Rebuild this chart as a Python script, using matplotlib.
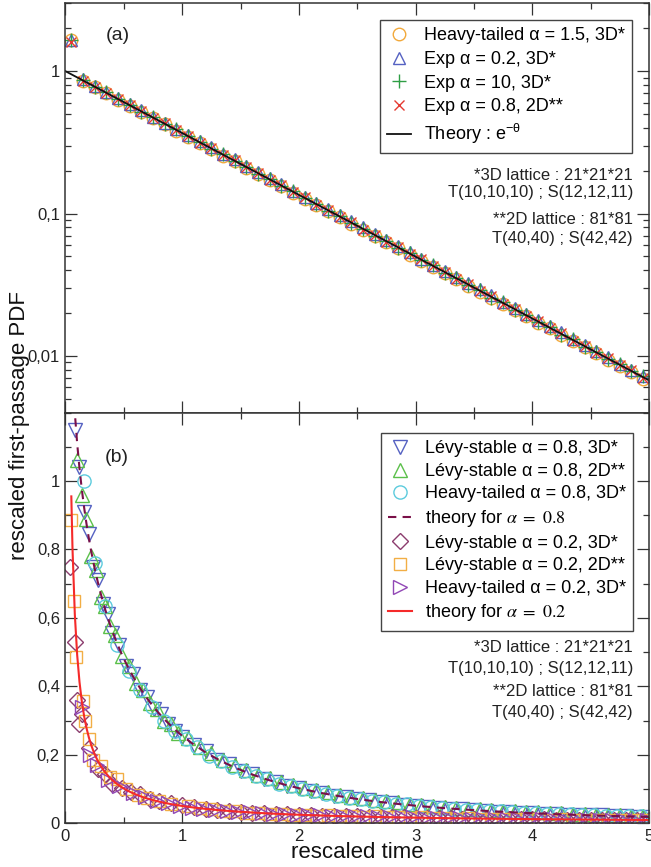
import numpy as np
import matplotlib
matplotlib.use('Agg')
import matplotlib.pyplot as plt
from matplotlib.ticker import FixedLocator, FixedFormatter, MultipleLocator, LogLocator, NullFormatter

plt.rcParams['font.family'] = ['Liberation Sans', 'DejaVu Sans']
plt.rcParams['mathtext.fontset'] = 'custom'
plt.rcParams['mathtext.rm'] = 'Liberation Sans'
plt.rcParams['mathtext.it'] = 'Liberation Sans:italic'

# ---------- panel (a) data ----------
theta_a = [0.05, 0.15, 0.25, 0.35, 0.45, 0.55, 0.65, 0.75, 0.85, 0.95, 1.05, 1.15, 1.25, 1.35, 1.45,
           1.55, 1.65, 1.75, 1.85, 1.95, 2.05, 2.15, 2.25, 2.35, 2.45, 2.55, 2.65, 2.75, 2.85, 2.95,
           3.05, 3.15, 3.25, 3.35, 3.45, 3.55, 3.65, 3.75, 3.85, 3.95, 4.05, 4.15, 4.25, 4.35, 4.45,
           4.55, 4.65, 4.75, 4.85, 4.95]
circ_a = [1.65, 0.85, 0.77, 0.70, 0.63, 0.57, 0.515, 0.47, 0.425, 0.383, 0.345, 0.313, 0.284, 0.255, 0.233,
          0.209, 0.190, 0.171, 0.156, 0.140, 0.127, 0.115, 0.104, 0.094, 0.085, 0.077, 0.0695, 0.063, 0.057, 0.0515,
          0.0465, 0.0423, 0.0382, 0.0345, 0.0312, 0.0283, 0.0256, 0.0232, 0.0209, 0.0190, 0.0171, 0.0156, 0.0141,
          0.0127, 0.0115, 0.0104, 0.0094, 0.0085, 0.0077, 0.0069]
tri_a = [1.65, 0.875, 0.79, 0.72, 0.65, 0.59, 0.53, 0.48, 0.435, 0.395, 0.356, 0.323, 0.292, 0.264, 0.240,
         0.216, 0.196, 0.178, 0.160, 0.145, 0.131, 0.119, 0.107, 0.0975, 0.088, 0.080, 0.072, 0.065, 0.059, 0.0535,
         0.048, 0.0437, 0.0396, 0.0358, 0.0325, 0.0293, 0.0266, 0.024, 0.0218, 0.0197, 0.0178, 0.0161, 0.0146,
         0.0132, 0.0120, 0.0108, 0.0098, 0.0088, 0.0080, 0.0072]
plus_a = [1.65, 0.865, 0.775, 0.71, 0.635, 0.58, 0.52, 0.475, 0.425, 0.39, 0.348, 0.318, 0.285, 0.261, 0.233,
          0.213, 0.191, 0.175, 0.156, 0.143, 0.128, 0.117, 0.104, 0.096, 0.0855, 0.0785, 0.070, 0.0645, 0.0572, 0.0528,
          0.047, 0.0433, 0.0384, 0.0354, 0.0314, 0.029, 0.0257, 0.0238, 0.0211, 0.0195, 0.0172, 0.016, 0.0141,
          0.0131, 0.0116, 0.0107, 0.0095, 0.0088, 0.0078, 0.0072]
cross_a = [1.6, 0.855, 0.775, 0.70, 0.635, 0.58, 0.525, 0.47, 0.43, 0.385, 0.352, 0.315, 0.288, 0.258, 0.236,
           0.211, 0.193, 0.173, 0.158, 0.141, 0.130, 0.115, 0.106, 0.094, 0.087, 0.077, 0.071, 0.063, 0.058, 0.052,
           0.0478, 0.0425, 0.039, 0.0348, 0.0319, 0.0284, 0.0262, 0.0232, 0.0215, 0.019, 0.0176, 0.0156, 0.0144,
           0.0127, 0.0118, 0.0105, 0.0097, 0.0086, 0.0079, 0.007]
theory_a_x = [0.0, 5.0]
theory_a_y = [1.0, 0.006738]

# ---------- panel (b) theory curves ----------
theta08_th = [0.04, 0.06, 0.08, 0.10, 0.12, 0.14, 0.16, 0.18, 0.20, 0.22, 0.24, 0.26, 0.28, 0.30, 0.32, 0.34,
              0.36, 0.38, 0.40, 0.42, 0.44, 0.46, 0.48, 0.50, 0.52, 0.54, 0.56, 0.58, 0.60, 0.62, 0.64, 0.66,
              0.68, 0.70, 0.72, 0.74, 0.76, 0.78, 0.80, 0.82, 0.84, 0.86, 0.88, 0.90, 0.92, 0.94, 0.96, 0.98,
              1.0, 1.1, 1.2, 1.3, 1.4, 1.5, 1.6, 1.7, 1.8, 1.9, 2.0, 2.1, 2.2, 2.3, 2.4, 2.5, 2.6, 2.7, 2.8,
              2.9, 3.0, 3.1, 3.2, 3.3, 3.4, 3.5, 3.6, 3.7, 3.8, 3.9, 4.0, 4.1, 4.2, 4.3, 4.4, 4.5, 4.6, 4.7,
              4.8, 4.9, 5.0]
th08 = [1.481, 1.316, 1.199, 1.11, 1.037, 0.975, 0.9217, 0.8747, 0.8328, 0.7951, 0.7607, 0.7292, 0.7002,
        0.6733, 0.6483, 0.625, 0.6031, 0.5826, 0.5632, 0.545, 0.5277, 0.5113, 0.4957, 0.4809, 0.4668,
        0.4534, 0.4406, 0.4283, 0.4165, 0.4053, 0.3945, 0.3841, 0.3742, 0.3646, 0.3554, 0.3465, 0.338,
        0.3298, 0.3218, 0.3142, 0.3068, 0.2996, 0.2927, 0.286, 0.2796, 0.2733, 0.2673, 0.2614, 0.2557,
        0.2298, 0.2074, 0.1879, 0.1709, 0.1559, 0.1426, 0.1308, 0.1203, 0.111, 0.1025, 0.09494, 0.08809,
        0.08189, 0.07626, 0.07114, 0.06647, 0.0622, 0.0583, 0.05472, 0.05143, 0.0484, 0.04561, 0.04303,
        0.04065, 0.03844, 0.0364, 0.0345, 0.03273, 0.03108, 0.02955, 0.02812, 0.02678, 0.02553, 0.02436,
        0.02326, 0.02223, 0.02126, 0.02035, 0.01949, 0.01869]
theta02_th = [0.05, 0.06, 0.08, 0.10, 0.12, 0.14, 0.16, 0.18, 0.20, 0.22, 0.24, 0.26, 0.28, 0.30, 0.32, 0.34,
              0.36, 0.38, 0.40, 0.42, 0.44, 0.46, 0.48, 0.50, 0.52, 0.54, 0.56, 0.58, 0.60, 0.62, 0.64, 0.66,
              0.68, 0.70, 0.72, 0.74, 0.76, 0.78, 0.80, 0.82, 0.84, 0.86, 0.88, 0.90, 0.92, 0.94, 0.96, 0.98,
              1.0, 1.1, 1.2, 1.3, 1.4, 1.5, 1.6, 1.7, 1.8, 1.9, 2.0, 2.1, 2.2, 2.3, 2.4, 2.5, 2.6, 2.7, 2.8,
              2.9, 3.0, 3.1, 3.2, 3.3, 3.4, 3.5, 3.6, 3.7, 3.8, 3.9, 4.0, 4.1, 4.2, 4.3, 4.4, 4.5, 4.6, 4.7,
              4.8, 4.9, 5.0]
th02 = [0.955, 0.8031, 0.61, 0.4922, 0.4128, 0.3555, 0.3122, 0.2784, 0.2511, 0.2288, 0.2101, 0.1942, 0.1805,
        0.1687, 0.1583, 0.149, 0.1409, 0.1335, 0.1269, 0.1209, 0.1154, 0.1104, 0.1059, 0.1016, 0.09773,
        0.09412, 0.09076, 0.08763, 0.08471, 0.08198, 0.07941, 0.077, 0.07473, 0.07258, 0.07056, 0.06864,
        0.06683, 0.0651, 0.06347, 0.06191, 0.06042, 0.05901, 0.05765, 0.05636, 0.05512, 0.05394, 0.0528,
        0.05172, 0.05067, 0.04601, 0.04212, 0.03883, 0.03601, 0.03357, 0.03143, 0.02954, 0.02786, 0.02636,
        0.02501, 0.02379, 0.02268, 0.02166, 0.02074, 0.01988, 0.01909, 0.01836, 0.01769, 0.01706, 0.01647,
        0.01592, 0.01541, 0.01492, 0.01447, 0.01404, 0.01364, 0.01325, 0.01289, 0.01255, 0.01222, 0.01191,
        0.01162, 0.01134, 0.01107, 0.01081, 0.01057, 0.01033, 0.01011, 0.009892, 0.009685]

# ---------- panel (b) data: alpha = 0.8 ----------
blue_x = [0.08, 0.12, 0.16, 0.20, 0.24, 0.28, 0.32, 0.36, 0.40, 0.46, 0.52, 0.58, 0.64, 0.70, 0.76, 0.82, 0.88, 0.94,
          1.0, 1.1, 1.2, 1.3, 1.4, 1.5, 1.6, 1.7, 1.8, 1.9, 2.0, 2.1, 2.2, 2.3, 2.4, 2.5, 2.6, 2.7, 2.8, 2.9,
          3.0, 3.1, 3.2, 3.3, 3.4, 3.5, 3.6, 3.7, 3.8, 3.9, 4.0, 4.1, 4.2, 4.3, 4.4, 4.5, 4.6, 4.7, 4.8, 4.9, 5.0]
blue_y = [1.15, 1.04, 0.91, 0.845, 0.75, 0.71, 0.64, 0.61, 0.555, 0.52, 0.46, 0.435, 0.39, 0.37, 0.335, 0.32, 0.29, 0.27,
          0.252, 0.228, 0.210, 0.185, 0.172, 0.153, 0.144, 0.129, 0.122, 0.109, 0.104, 0.093, 0.089, 0.080,
          0.077, 0.070, 0.067, 0.061, 0.059, 0.054, 0.052, 0.047, 0.046, 0.042, 0.041, 0.038, 0.037, 0.034,
          0.033, 0.031, 0.030, 0.028, 0.027, 0.025, 0.025, 0.023, 0.023, 0.021, 0.021, 0.019, 0.019]
green_x = [0.10, 0.14, 0.18, 0.22, 0.26, 0.30, 0.34, 0.38, 0.42, 0.48, 0.54, 0.60, 0.66, 0.72, 0.78, 0.84, 0.90, 0.96,
           1.05, 1.15, 1.25, 1.35, 1.45, 1.55, 1.65, 1.75, 1.85, 1.95, 2.05, 2.15, 2.25, 2.35, 2.45, 2.55,
           2.65, 2.75, 2.85, 2.95, 3.05, 3.15, 3.25, 3.35, 3.45, 3.55, 3.65, 3.75, 3.85, 3.95, 4.05, 4.15,
           4.25, 4.35, 4.45, 4.55, 4.65, 4.75, 4.85, 4.95]
green_y = [1.06, 0.96, 0.89, 0.78, 0.74, 0.66, 0.635, 0.575, 0.55, 0.49, 0.46, 0.41, 0.39, 0.35, 0.335, 0.30, 0.29, 0.265,
           0.250, 0.224, 0.205, 0.186, 0.170, 0.157, 0.142, 0.132, 0.121, 0.113, 0.104, 0.097, 0.090, 0.084,
           0.078, 0.073, 0.069, 0.064, 0.061, 0.057, 0.054, 0.051, 0.048, 0.045, 0.043, 0.041, 0.039, 0.037,
           0.035, 0.033, 0.032, 0.030, 0.029, 0.028, 0.027, 0.025, 0.024, 0.023, 0.022, 0.021]
cyan_x = [0.16, 0.25, 0.34, 0.44, 0.54, 0.64, 0.74, 0.84, 0.94,
          1.03, 1.13, 1.23, 1.33, 1.43, 1.53, 1.63, 1.73, 1.83, 1.93, 2.03, 2.13, 2.23, 2.33, 2.43, 2.53,
          2.63, 2.73, 2.83, 2.93, 3.03, 3.13, 3.23, 3.33, 3.43, 3.53, 3.63, 3.73, 3.83, 3.93, 4.03, 4.13,
          4.23, 4.33, 4.43, 4.53, 4.63, 4.73, 4.83, 4.93]
cyan_y = [1.0, 0.76, 0.635, 0.52, 0.445, 0.39, 0.34, 0.30, 0.27,
          0.245, 0.222, 0.198, 0.183, 0.164, 0.152, 0.137, 0.128, 0.116, 0.109, 0.099, 0.094, 0.086, 0.081,
          0.074, 0.071, 0.065, 0.062, 0.057, 0.055, 0.050, 0.049, 0.045, 0.043, 0.040, 0.039, 0.036, 0.035,
          0.032, 0.031, 0.029, 0.028, 0.027, 0.026, 0.024, 0.023, 0.022, 0.021, 0.020, 0.020]

# ---------- panel (b) data: alpha = 0.2 ----------
dia_x = [0.04, 0.08, 0.10, 0.12, 0.14, 0.20, 0.28, 0.34, 0.40, 0.48, 0.56, 0.64, 0.72, 0.80, 0.90, 1.0,
         1.1, 1.2, 1.3, 1.4, 1.5, 1.6, 1.7, 1.8, 1.9, 2.0, 2.1, 2.2, 2.3, 2.4, 2.5, 2.6, 2.7, 2.8, 2.9, 3.0,
         3.1, 3.2, 3.3, 3.4, 3.5, 3.6, 3.7, 3.8, 3.9, 4.0, 4.1, 4.2, 4.3, 4.4, 4.5, 4.6, 4.7, 4.8, 4.9, 5.0]
dia_y = [0.75, 0.53, 0.36, 0.29, 0.32, 0.22, 0.16, 0.145, 0.115, 0.104, 0.092, 0.087, 0.072, 0.066, 0.058, 0.053,
         0.047, 0.041, 0.040, 0.035, 0.034, 0.031, 0.030, 0.027, 0.027, 0.024, 0.024, 0.022, 0.022, 0.020,
         0.020, 0.019, 0.019, 0.017, 0.017, 0.016, 0.016, 0.015, 0.015, 0.014, 0.014, 0.013, 0.013, 0.013,
         0.012, 0.012, 0.012, 0.011, 0.011, 0.011, 0.010, 0.011, 0.010, 0.010, 0.0095, 0.0095]
sq_x = [0.05, 0.07, 0.09, 0.15, 0.17, 0.20, 0.24, 0.30, 0.38, 0.44, 0.52, 0.62, 0.70, 0.80, 0.90,
        1.05, 1.15, 1.25, 1.35, 1.45, 1.55, 1.65, 1.75, 1.85, 1.95, 2.05, 2.15, 2.25, 2.35, 2.45, 2.55,
        2.65, 2.75, 2.85, 2.95, 3.05, 3.15, 3.25, 3.35, 3.45, 3.55, 3.65, 3.75, 3.85, 3.95, 4.05, 4.15,
        4.25, 4.35, 4.45, 4.55, 4.65, 4.75, 4.85, 4.95]
sq_y = [0.886, 0.65, 0.485, 0.357, 0.30, 0.245, 0.185, 0.166, 0.135, 0.13, 0.10, 0.083, 0.074, 0.066, 0.056,
        0.050, 0.044, 0.042, 0.036, 0.036, 0.031, 0.031, 0.028, 0.028, 0.025, 0.025, 0.022, 0.023, 0.020,
        0.021, 0.019, 0.020, 0.017, 0.018, 0.016, 0.017, 0.015, 0.016, 0.014, 0.015, 0.013, 0.014, 0.012,
        0.013, 0.012, 0.013, 0.011, 0.012, 0.011, 0.011, 0.010, 0.011, 0.010, 0.010, 0.0095]
rt_x = [0.14, 0.21, 0.27, 0.36, 0.46, 0.58, 0.68, 0.78, 0.88, 0.98,
        1.08, 1.18, 1.28, 1.38, 1.48, 1.58, 1.68, 1.78, 1.88, 1.98, 2.08, 2.18, 2.28, 2.38, 2.48, 2.58,
        2.68, 2.78, 2.88, 2.98, 3.08, 3.18, 3.28, 3.38, 3.48, 3.58, 3.68, 3.78, 3.88, 3.98, 4.08, 4.18,
        4.28, 4.38, 4.48, 4.58, 4.68, 4.78, 4.88, 4.98]
rt_y = [0.34, 0.20, 0.17, 0.127, 0.11, 0.088, 0.076, 0.064, 0.058, 0.052,
        0.046, 0.043, 0.039, 0.037, 0.033, 0.032, 0.029, 0.028, 0.026, 0.025, 0.024, 0.023, 0.022, 0.021,
        0.020, 0.020, 0.019, 0.018, 0.018, 0.017, 0.016, 0.016, 0.015, 0.015, 0.014, 0.014, 0.013, 0.013,
        0.013, 0.012, 0.012, 0.012, 0.011, 0.011, 0.011, 0.011, 0.010, 0.010, 0.010, 0.0098]

ya_ticks = [0.01, 0.1, 1]
ya_labels = ['0,01', '0,1', '1']
yb_ticks = [0, 0.2, 0.4, 0.6, 0.8, 1.0]
yb_labels = ['0', '0,2', '0,4', '0,6', '0,8', '1']
lattice_notes = ['*3D lattice : 21*21*21', 'T(10,10,10) ; S(12,12,11)', '**2D lattice : 81*81', 'T(40,40) ; S(42,42)']

fig = plt.figure(figsize=(6.51, 8.67), dpi=100)
axa = fig.add_axes([0.1006, 0.5242, 0.8963, 0.4720])
axb = fig.add_axes([0.1006, 0.0504, 0.8963, 0.4738])

mk = dict(linestyle='none', mfc='none', mew=1.0)
axa.plot(theta_a, circ_a, marker='o', ms=9, mec='#F2A93B', label='Heavy-tailed α = 1.5, 3D*', **mk)
axa.plot(theta_a, tri_a, marker='^', ms=9, mec='#5561C2', label='Exp α = 0.2, 3D*', **mk)
axa.plot(theta_a, plus_a, marker='+', ms=10, mec='#2E9E44', label='Exp α = 10, 3D*', **mk)
axa.plot(theta_a, cross_a, marker='x', ms=7.5, mec='#E53A32', label='Exp α = 0.8, 2D**', **mk)
axa.plot(theory_a_x, theory_a_y, '-', color='#111111', lw=1.3, label=r'Theory : e$^{\mathregular{-θ}}$')
axa.set_yscale('log')
axa.set_xlim(0, 5)
axa.set_ylim(0.004, 3)

hb = []
hb += axb.plot(blue_x, blue_y, marker='v', ms=9.5, mec='#5561C2', label='Lévy-stable α = 0.8, 3D*', **mk)
hb += axb.plot(green_x, green_y, marker='^', ms=9.5, mec='#5BC04A', label='Lévy-stable α = 0.8, 2D**', **mk)
hb += axb.plot(cyan_x, cyan_y, marker='o', ms=9.5, mec='#5CCBDD', label='Heavy-tailed α = 0.8, 3D*', **mk)
hb += axb.plot(dia_x, dia_y, marker='D', ms=8, mec='#8C3D6E', label='Lévy-stable α = 0.2, 3D*', **mk)
hb += axb.plot(sq_x, sq_y, marker='s', ms=9, mec='#F2AE45', label='Lévy-stable α = 0.2, 2D**', **mk)
hb += axb.plot(rt_x, rt_y, marker='>', ms=9.5, mec='#9147B5', label='Heavy-tailed α = 0.2, 3D*', **mk)
l08, = axb.plot(theta08_th, th08, '--', color='#7A1048', lw=1.5, dashes=(4, 3), label=r'theory for $\alpha\ =\ 0.8$')
l02, = axb.plot(theta02_th, th02, '-', color='#F52A2A', lw=1.5, label=r'theory for $\alpha\ =\ 0.2$')
axb.set_xlim(0, 5)
axb.set_ylim(0, 1.2)

for ax in (axa, axb):
    ax.tick_params(which='both', direction='in', top=True, right=True, width=0.9, color='#333333',
                   labelsize=12, pad=4, labelcolor='#222222')
    ax.tick_params(which='major', length=8.5)
    ax.tick_params(which='minor', length=4.3)
    ax.xaxis.set_major_locator(MultipleLocator(1))
    ax.xaxis.set_minor_locator(MultipleLocator(0.5))
    for s in ax.spines.values():
        s.set_linewidth(1.1)
        s.set_color('#333333')
axa.tick_params(axis='x', labelbottom=False)
axa.yaxis.set_major_locator(FixedLocator(ya_ticks))
axa.yaxis.set_major_formatter(FixedFormatter(ya_labels))
axa.yaxis.set_minor_locator(LogLocator(base=10, subs=np.arange(2, 10)))
axa.yaxis.set_minor_formatter(NullFormatter())
axb.yaxis.set_major_locator(FixedLocator(yb_ticks))
axb.yaxis.set_major_formatter(FixedFormatter(yb_labels))
axb.yaxis.set_minor_locator(MultipleLocator(0.1))

legkw = dict(loc='upper right', borderaxespad=0, fontsize=13, frameon=True, fancybox=False,
             edgecolor='#444444', framealpha=1, handlelength=1.33, handletextpad=0.7, borderpad=0.4)
la = axa.legend(bbox_to_anchor=(0.971, 0.959), labelspacing=0.37, **legkw)
la.get_frame().set_linewidth(1.0)
handles_b = [hb[0], hb[1], hb[2], l08, hb[3], hb[4], hb[5], l02]
lb = axb.legend(handles=handles_b, labels=[h.get_label() for h in handles_b],
                bbox_to_anchor=(0.9726, 0.950), labelspacing=0.31, **legkw)
lb.get_frame().set_linewidth(1.0)
for t in lb.get_texts():
    t.set_math_fontfamily('stix')

fig.text(106 / 651, 1 - 35 / 867, '(a)', fontsize=14, va='center', ha='left', color='#222222')
fig.text(105 / 651, 1 - 458 / 867, '(b)', fontsize=14, va='center', ha='left', color='#222222')
for ys in ([175, 193, 220, 238], [647, 668, 692, 712]):
    for y, s in zip(ys, lattice_notes):
        fig.text(633 / 651, 1 - y / 867, s, fontsize=12, ha='right', va='center', color='#222222')
fig.text(357 / 651, 1 - 853 / 867, 'rescaled time', fontsize=16, ha='center', va='center', color='#111111')
fig.text(20 / 651, 1 - 425 / 867, 'rescaled first-passage PDF', fontsize=16, ha='center', va='center',
         rotation=90, color='#111111')

fig.savefig('out.png', dpi=100)
